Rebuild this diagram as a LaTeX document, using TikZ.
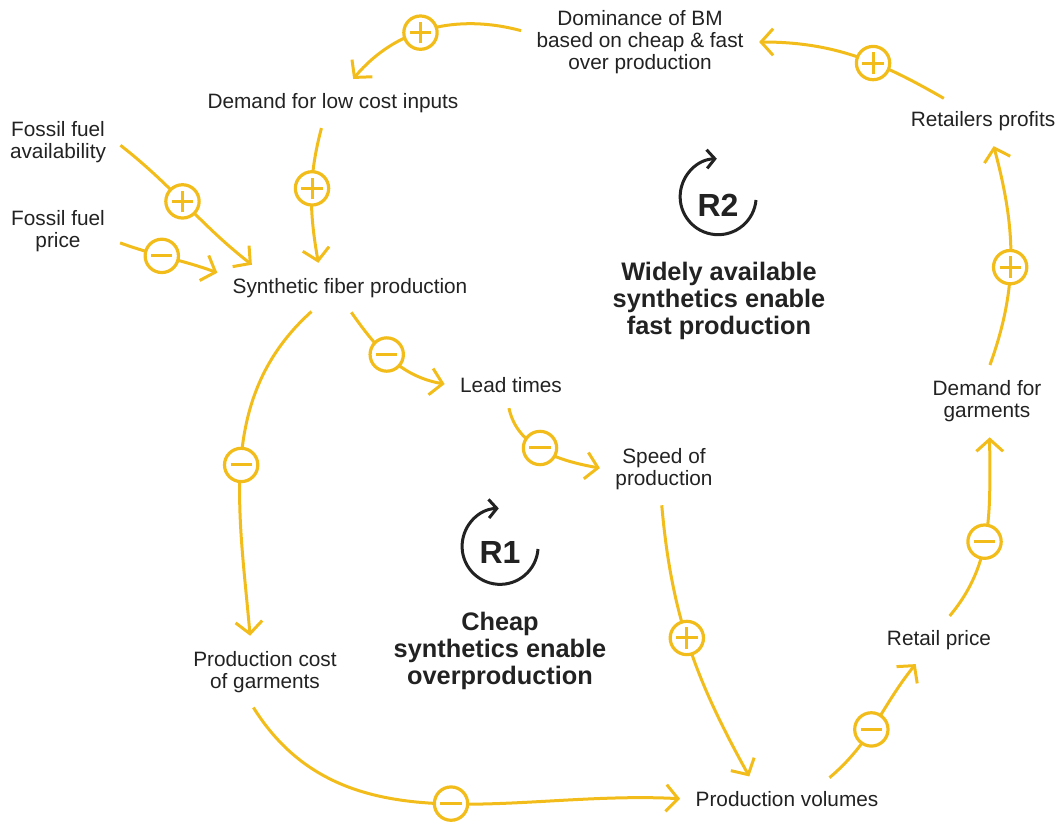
\documentclass[tikz,border=0pt]{standalone}
\usepackage{fontspec}
\setmainfont{Liberation Sans}
\usetikzlibrary{arrows.meta}
\definecolor{cldyellow}{HTML}{F2BD1A}
\definecolor{cldtext}{HTML}{222222}

\begin{document}
\begin{tikzpicture}[x=.75pt, y=.75pt,
    factor/.style={align=center, text=cldtext, inner sep=7.5pt,
        font=\fontsize{15.6}{16.5}\selectfont},
    looptitle/.style={align=center, text=cldtext,
        font=\fontsize{19}{20}\selectfont\bfseries},
    loopname/.style={text=cldtext, inner sep=0,
        font=\fontsize{24}{24}\selectfont\bfseries},
    loopsign/.style={draw=cldtext, line width=2.25pt,
        -{Straight Barb[length=6pt, width=14pt]}},
    link/.style={cldyellow, line width=2.25pt, shorten >=4pt,
        shorten <=4pt, -{Straight Barb[length=9pt, width=20pt]}},
    polarity/.style={circle, draw=cldyellow, fill=white,
        line width=2.4pt, minimum size=25pt, inner sep=0},
    bar/.style={cldyellow, line width=2.25pt, -, shorten >=0pt,
        shorten <=0pt},
    poslink/.style={polarity, path picture={
        \draw[bar] ([xshift=-8pt]path picture bounding box.center)
            -- ([xshift=8pt]path picture bounding box.center)
            ([yshift=-8pt]path picture bounding box.center)
            -- ([yshift=8pt]path picture bounding box.center);}},
    neglink/.style={polarity, path picture={
        \draw[bar] ([xshift=-8pt]path picture bounding box.center)
            -- ([xshift=8pt]path picture bounding box.center);}},
]
    \useasboundingbox (0, 0) rectangle (1057, -823);

    %% the factors of the two loops
    \node[factor] (dominance) at (640, -42)
        {Dominance of BM\\based on cheap \& fast\\over production};
    \node[factor] (lowcost) at (333, -103) {Demand for low cost inputs};
    \node[factor] (fossilavail) at (58, -142) {Fossil fuel\\availability};
    \node[factor] (fossilprice) at (58, -231) {Fossil fuel\\price};
    \node[factor] (fiber) at (350, -288) {Synthetic fiber production};
    \node[factor] (leadtimes) at (511, -385) {Lead times};
    \node[factor] (speed) at (664, -469) {Speed of\\production};
    \node[factor] (prodcost) at (265, -672) {Production cost\\of garments};
    \node[factor] (volumes) at (787, -799) {Production volumes};
    \node[factor] (retail) at (939, -640) {Retail price};
    \node[factor] (demandgarm) at (987, -401) {Demand for\\garments};
    \node[factor] (profits) at (983, -121) {Retailers profits};

    %% the causal links, each with its polarity
    \foreach \src/\dst/\aout/\ain/\pol/\p in {
            dominance.175/lowcost/165/50/poslink/.55,
            profits/dominance.east/150/0/poslink/.4,
            lowcost.-117/fiber.147/255/100/poslink/.45,
            fossilavail.east/fiber.168/-38/142/poslink/.47,
            fossilprice.-10/fiber.174/-20/160/neglink/.43,
            fiber.-95/leadtimes.west/-55/170/neglink/.45,
            fiber.210/prodcost.115/222/95/neglink/.52,
            leadtimes.-100/speed.west/-78/170/neglink/.47,
            speed.-95/volumes.153/-85/119/poslink/.47,
            prodcost.-115/volumes.west/-58/177/neglink/.53,
            volumes.25/retail.-135/40/231/neglink/.45,
            retail.70/demandgarm.-85/50/-90/neglink/.45,
            demandgarm.88/profits.-65/70/-75/poslink/.45}{
        \draw[link] (\src) to[out=\aout, in=\ain]
            node[pos=\p, \pol] {} (\dst);
    }

    %% the two reinforcing loops
    \node[loopname] (r2) at (718, -205) {R2};
    \draw[loopsign] (r2.center) ++(38, 5)
        arc[start angle=-5, end angle=-268, radius=38];
    \node[looptitle] (r2title) at (719, -301)
        {Widely available\\synthetics enable\\fast production};
    \node[loopname] (r1) at (500, -552) {R1};
    \draw[loopsign] (r1.center) ++(38, 3)
        arc[start angle=-4, end angle=-268, radius=38];
    \node[looptitle] (r1title) at (500, -651)
        {Cheap\\synthetics enable\\overproduction};
\end{tikzpicture}
\end{document}
